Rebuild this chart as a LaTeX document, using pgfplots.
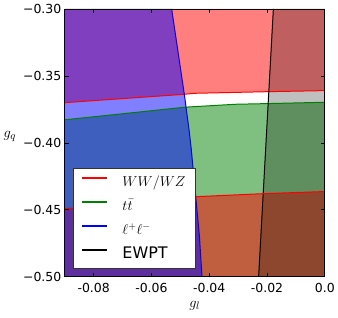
\documentclass[border=0pt]{standalone}
\usepackage{fontspec}
\setmainfont{DejaVu Sans}
\usepackage{pgfplots}
\pgfplotsset{compat=1.18}
\definecolor{mplred}{RGB}{255,0,0}
\definecolor{mplgreen}{RGB}{0,128,0}
\definecolor{mplblue}{RGB}{0,0,255}
\begin{document}
\begin{tikzpicture}
\begin{axis}[
  name=ax,
  scale only axis,
  width=261bp, height=268.7bp,
  xmin=-0.09, xmax=0, ymin=-0.5, ymax=-0.3,
  axis on top=true,
  scaled x ticks=false, scaled y ticks=false,
  xtick={-0.08,-0.06,-0.04,-0.02,0},
  xticklabels={-0.08,-0.06,-0.04,-0.02,0.0},
  ytick={-0.5,-0.45,-0.4,-0.35,-0.3},
  yticklabels={−0.50,−0.45,−0.40,−0.35,−0.30},
  tick align=inside,
  major tick length=4bp,
  tick style={black, line width=0.6bp},
  axis line style={black, line width=0.8bp},
  ticklabel style={font=\fontsize{12.5bp}{14bp}\selectfont},
  xticklabel style={yshift=-3bp},
  xlabel={$g_l$},
  ylabel={$g_q$},
  every axis x label/.style={at={(axis description cs:0.5,-0.09)}, anchor=north, inner sep=0pt, font=\fontsize{15bp}{18bp}\selectfont},
  every axis y label/.style={at={(axis description cs:-0.211,0.524)}, anchor=center, inner sep=0pt, font=\fontsize{15bp}{18bp}\selectfont},
  legend style={at={(0.031,0.029)}, anchor=south west, draw=black!80, line width=0.5bp,
    font=\fontsize{14.5bp}{17bp}\selectfont, fill=white, fill opacity=1, text opacity=1,
    inner xsep=8bp, inner ysep=7bp, row sep=9bp, column sep=13bp,
    nodes={inner xsep=2bp, inner ysep=0bp, text height=11.5bp, text depth=3.5bp}},
  legend cell align=left,
  legend image code/.code={\draw[#1, line width=1.6bp] plot coordinates {(0bp,4.5bp) (12.5bp,4.5bp) (25bp,4.5bp)};},
]
% fills: green, red, blue, black
\addplot[draw=none, fill=mplgreen, fill opacity=0.5, forget plot] coordinates {
  (-0.09,-0.3828) (-0.0687,-0.3780) (-0.0485,-0.3734) (-0.031,-0.3712) (-0.02,-0.3707) (0,-0.3697) (0,-0.5) (-0.09,-0.5)};
\addplot[draw=none, fill=mplred, fill opacity=0.5, forget plot] coordinates {
  (-0.09,-0.3700) (-0.049,-0.3638) (-0.045,-0.3630) (-0.02,-0.3618) (0,-0.3610) (0,-0.3) (-0.09,-0.3)};
\addplot[draw=none, fill=mplred, fill opacity=0.5, forget plot] coordinates {
  (-0.09,-0.4493) (-0.0442,-0.4402) (-0.0215,-0.4380) (0,-0.4364) (0,-0.5) (-0.09,-0.5)};
\addplot[draw=none, fill=mplblue, fill opacity=0.5, forget plot] coordinates {
  (-0.0530,-0.30) (-0.0486,-0.364) (-0.0470,-0.390) (-0.0462,-0.405) (-0.0434,-0.4695) (-0.0425,-0.50) (-0.09,-0.5) (-0.09,-0.3)};
\addplot[draw=none, fill=black, fill opacity=0.25, forget plot] coordinates {
  (-0.0178,-0.3) (-0.0229,-0.5) (0,-0.5) (0,-0.3)};
% boundary lines (these carry the legend)
\addplot[draw=mplred, line width=1bp] coordinates {
  (-0.09,-0.3700) (-0.049,-0.3638) (-0.045,-0.3630) (-0.02,-0.3618) (0,-0.3610)};
\addlegendentry{$WW/WZ$}
\addplot[draw=mplgreen, line width=1bp] coordinates {
  (-0.09,-0.3828) (-0.0687,-0.3780) (-0.0485,-0.3734) (-0.031,-0.3712) (-0.02,-0.3707) (0,-0.3697)};
\addlegendentry{$t\bar{t}$}
\addplot[draw=mplblue, line width=1bp] coordinates {
  (-0.0530,-0.30) (-0.0486,-0.364) (-0.0470,-0.390) (-0.0462,-0.405) (-0.0434,-0.4695) (-0.0425,-0.50)};
\addlegendentry{$\ell^+\ell^-$}
\addplot[draw=black, line width=1bp] coordinates {
  (-0.0178,-0.3) (-0.0229,-0.5)};
\addlegendentry{\fontsize{16bp}{18bp}\selectfont EWPT}
\addplot[draw=mplred, line width=1bp, forget plot] coordinates {
  (-0.09,-0.4493) (-0.0442,-0.4402) (-0.0215,-0.4380) (0,-0.4364)};
\end{axis}
\path (ax.south west) ++(-65bp,-41.3bp);
\path (ax.north east) ++(12bp,9bp);
\end{tikzpicture}
\end{document}
